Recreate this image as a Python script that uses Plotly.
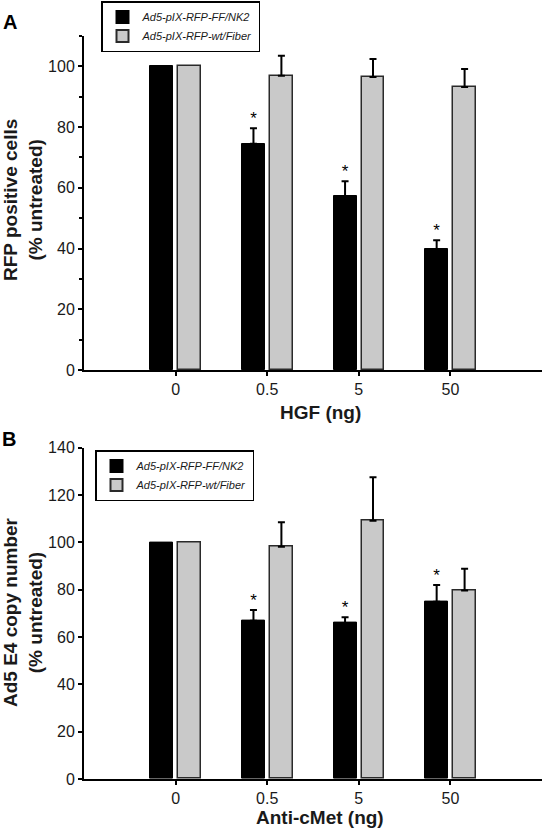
import plotly.graph_objects as go

# ---------------- data ----------------
categories = ["0", "0.5", "5", "50"]
series_names = ["Ad5-pIX-RFP-FF/NK2", "Ad5-pIX-RFP-wt/Fiber"]

a_nk2 = [100, 74.5, 57.3, 39.8]
a_nk2_err = [0, 5.1, 4.9, 2.9]
a_fiber = [100, 96.9, 96.5, 93.2]
a_fiber_err = [0, 6.6, 5.9, 5.9]
a_sig = [False, True, True, True]

b_nk2 = [100, 66.9, 65.9, 74.9]
b_nk2_err = [0, 4.5, 2.4, 7.1]
b_fiber = [100, 98.1, 109.1, 79.6]
b_fiber_err = [0, 10.4, 18.4, 9.2]
b_sig = [False, True, True, True]

a_ytitle = "RFP positive cells<br>(% untreated)"
a_xtitle = "HGF (ng)"
b_ytitle = "Ad5 E4 copy number<br>(% untreated)"
b_xtitle = "Anti-cMet (ng)"

# ---------------- styling ----------------
W, H = 544, 830
FONT = "Liberation Sans, Arial, Helvetica, sans-serif"
BLACK = "#000000"
GRAY = "#c9c9c9"
TXT = "#1a1a1a"
xs = list(range(len(categories)))
BW = 0.25
OFF_BLACK = -0.275
OFF_GRAY = 0.03


def px_x(x):
    return x / W


def px_y(y):
    return 1 - y / H


fig = go.Figure()


def add_errors(xref, yref, offset, vals, errs):
    ex = [x + offset + BW / 2 for x, e in zip(xs, errs) if e > 0]
    ey = [v for v, e in zip(vals, errs) if e > 0]
    ee = [e for e in errs if e > 0]
    fig.add_trace(go.Scatter(
        x=ex, y=ey, mode="markers", marker=dict(size=1, opacity=0),
        error_y=dict(type="data", symmetric=False, array=ee, arrayminus=[0] * len(ee),
                     color=BLACK, thickness=2, width=3.5),
        xaxis=xref, yaxis=yref, showlegend=False, hoverinfo="skip",
    ))


def add_panel(xref, yref, legend, nk2, nk2_err, fiber, fiber_err, sig):
    fig.add_trace(go.Bar(
        x=xs, y=nk2, width=BW, offset=OFF_BLACK,
        name="<i>%s</i>" % series_names[0],
        marker=dict(color=BLACK, line=dict(color=BLACK, width=1)),
        xaxis=xref, yaxis=yref, legend=legend, showlegend=True,
    ))
    fig.add_trace(go.Bar(
        x=xs, y=fiber, width=BW, offset=OFF_GRAY,
        name="<i>%s</i>" % series_names[1],
        marker=dict(color=GRAY, line=dict(color="#2a2a2a", width=1.5)),
        xaxis=xref, yaxis=yref, legend=legend, showlegend=True,
    ))
    add_errors(xref, yref, OFF_BLACK, nk2, nk2_err)
    add_errors(xref, yref, OFF_GRAY, fiber, fiber_err)
    sx = [x + OFF_BLACK + BW / 2 for x, s in zip(xs, sig) if s]
    sy = [v + e for v, e, s in zip(nk2, nk2_err, sig) if s]
    fig.add_trace(go.Scatter(
        x=sx, y=sy, mode="text", text=["*"] * len(sx),
        textposition="top center",
        textfont=dict(size=17, color=BLACK, family=FONT),
        xaxis=xref, yaxis=yref, showlegend=False, hoverinfo="skip",
    ))


add_panel("x", "y", "legend", a_nk2, a_nk2_err, a_fiber, a_fiber_err, a_sig)
add_panel("x2", "y2", "legend2", b_nk2, b_nk2_err, b_fiber, b_fiber_err, b_sig)

xdom = [px_x(84), px_x(542)]
xaxis_common = dict(
    range=[-1, 4], tickmode="array", tickvals=xs, ticktext=categories,
    showline=True, linecolor=BLACK, linewidth=2, ticks="outside", ticklen=4,
    tickwidth=1.5, tickcolor=BLACK, showgrid=False, zeroline=False,
    tickfont=dict(size=16, color=TXT, family=FONT), domain=xdom, fixedrange=True,
)
yaxis_common = dict(
    showline=True, linecolor=BLACK, linewidth=2, ticks="outside", ticklen=4,
    tickwidth=1.5, tickcolor=BLACK, showgrid=False, zeroline=False,
    tickfont=dict(size=16, color=TXT, family=FONT), fixedrange=True,
)

fig.update_layout(
    width=W, height=H,
    margin=dict(l=0, r=0, t=0, b=0, autoexpand=False),
    paper_bgcolor="white", plot_bgcolor="white",
    font=dict(family=FONT, color=TXT),
    bargap=0, barmode="overlay",
    xaxis=dict(**xaxis_common, anchor="y"),
    yaxis=dict(**yaxis_common, range=[0, 110], tickvals=[0, 20, 40, 60, 80, 100],
               minor=dict(tickvals=[10, 30, 50, 70, 90, 110], ticks="outside",
                          ticklen=3, tickwidth=1.5, tickcolor=BLACK),
               domain=[px_y(370), px_y(36)], anchor="x"),
    xaxis2=dict(**xaxis_common, anchor="y2"),
    yaxis2=dict(**yaxis_common, range=[0, 140], dtick=20,
                domain=[px_y(779), px_y(447.6)], anchor="x2"),
    legend=dict(x=px_x(101), y=px_y(1), xanchor="left", yanchor="top",
                bgcolor="white", bordercolor=BLACK, borderwidth=1.5,
                font=dict(size=11, color=TXT, family=FONT),
                tracegroupgap=0, itemsizing="constant"),
    legend2=dict(x=px_x(95), y=px_y(450), xanchor="left", yanchor="top",
                 bgcolor="white", bordercolor=BLACK, borderwidth=1.5,
                 font=dict(size=11, color=TXT, family=FONT),
                 tracegroupgap=0, itemsizing="constant"),
    showlegend=True,
)

ann = []
# panel letters
ann.append(dict(text="<b>A</b>", x=px_x(10), y=px_y(22), font=dict(size=20, color=BLACK)))
ann.append(dict(text="<b>B</b>", x=px_x(9), y=px_y(439), font=dict(size=20, color=BLACK)))
# y titles
ann.append(dict(text="<b>%s</b>" % a_ytitle, x=px_x(23), y=px_y(200), textangle=-90,
                font=dict(size=19, color=TXT)))
ann.append(dict(text="<b>%s</b>" % b_ytitle, x=px_x(23), y=px_y(612), textangle=-90,
                font=dict(size=19, color=TXT)))
# x titles
ann.append(dict(text="<b>%s</b>" % a_xtitle, x=px_x(320), y=px_y(412),
                font=dict(size=19, color=TXT)))
ann.append(dict(text="<b>%s</b>" % b_xtitle, x=px_x(320), y=px_y(817),
                font=dict(size=19, color=TXT)))
for a in ann:
    a.update(xref="paper", yref="paper", showarrow=False, xanchor="center", yanchor="middle")
    a["font"]["family"] = FONT
fig.update_layout(annotations=ann)

fig.write_html("out.html", config={"displayModeBar": False},
               post_script="document.body.style.margin='0';")
